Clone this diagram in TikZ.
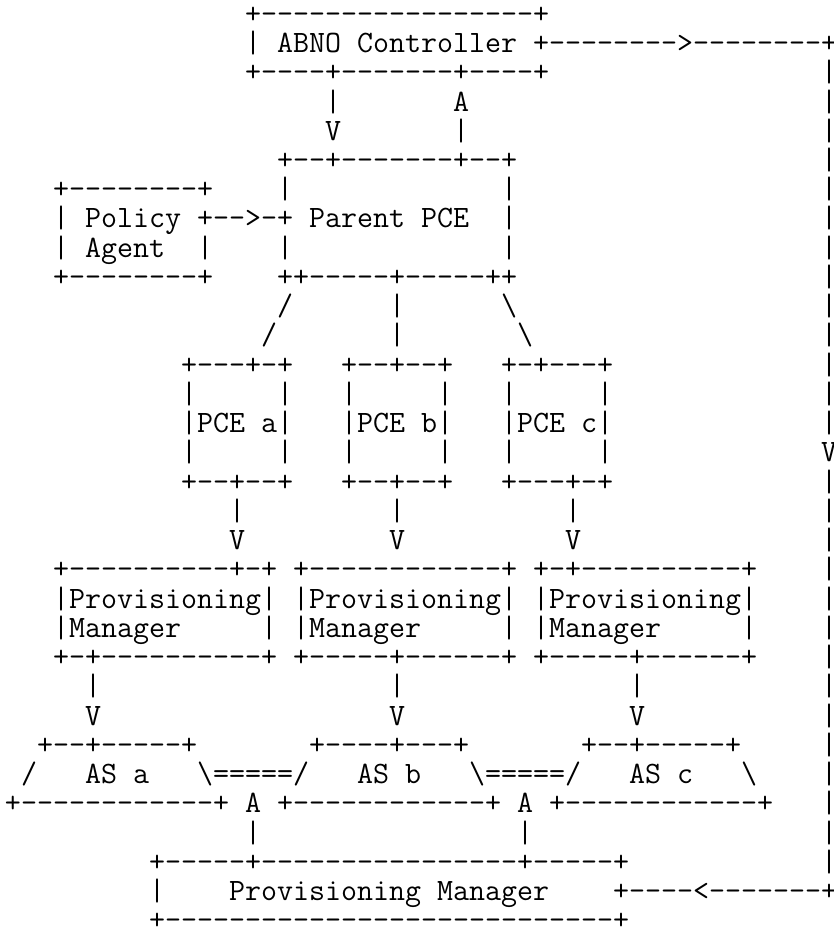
\documentclass[tikz,border=0pt]{standalone}
\usepackage{tikz}
\tikzstyle{ascii}=[font=\ttfamily\fontsize{30.5}{30.5}\selectfont,anchor=mid west,inner sep=0pt,outer sep=0pt]
\newcommand{\fwd}{/}
\newcommand{\bck}{\textbackslash}
\newlength{\cw}
\newlength{\rh}

\begin{document}
\settowidth{\cw}{\ttfamily\fontsize{30.5}{30.5}\selectfont +}
\setlength{\rh}{1.828\cw}
\begin{tikzpicture}[x={(\cw,0)},y={(0,-\rh)}]
		\useasboundingbox (-0.3125,-0.72) rectangle (51.75,31.11);

		% boxes and their labels
		\foreach \r/\c/\t in {0/15/+-----------------+,
			1/15/|, 1/17/ABNO, 1/22/Controller, 1/33/+-------->--------+,
			2/15/+----+-------+----+,
			5/17/+--+-------+--+,
			6/3/+--------+, 6/17/|, 6/31/|,
			7/3/|, 7/5/Policy, 7/12/+-->-+, 7/19/Parent, 7/26/PCE, 7/31/|,
			8/3/|, 8/5/Agent, 8/12/|, 8/17/|, 8/31/|,
			9/3/+--------+, 9/17/++-----+-----++,
			12/11/+---+-+, 12/21/+--+--+, 12/31/+-+---+,
			14/11/|PCE, 14/16/a|, 14/21/|PCE, 14/26/b|, 14/31/|PCE, 14/36/c|,
			16/11/+--+--+, 16/21/+--+--+, 16/31/+---+-+,
			19/3/+----------+-+, 19/18/+------------+, 19/33/+-+----------+,
			20/3/|Provisioning|, 20/18/|Provisioning|, 20/33/|Provisioning|,
			21/3/|Manager, 21/16/|, 21/18/|Manager, 21/31/|, 21/33/|Manager, 21/46/|,
			22/3/+-+----------+, 22/18/+-----+------+, 22/33/+-----+------+,
			25/2/+--+-----+, 25/19/+----+---+, 25/36/+--+-----+,
			26/1/\fwd, 26/5/AS, 26/8/a, 26/12/\bck=====\fwd, 26/22/AS, 26/25/b,
			26/29/\bck=====\fwd, 26/39/AS, 26/42/c, 26/46/\bck,
			27/0/+------------+, 27/15/A, 27/17/+------------+, 27/32/A, 27/34/+------------+,
			29/9/+-----+----------------+-----+,
			30/9/|, 30/14/Provisioning, 30/27/Manager, 30/38/+----<-------+,
			31/9/+----------------------------+}
			{\node[ascii] (n\r-\c) at (\c,\r) {\t};}

		\foreach \r in {13,15} {\foreach \c in {11,17,21,27,31,37} {\node[ascii] (n\r-\c) at (\c,\r) {|};}}

		% links between the boxes
		\foreach \r/\c/\t in {3/20/|, 3/28/A, 4/20/V, 4/28/|,
			10/17/\fwd, 10/24/|, 10/31/\bck,
			11/16/\fwd, 11/24/|, 11/32/\bck,
			17/14/|, 17/24/|, 17/35/|, 18/14/V, 18/24/V, 18/35/V,
			23/5/|, 23/24/|, 23/39/|, 24/5/V, 24/24/V, 24/39/V,
			28/15/|, 28/32/|}
			{\node[ascii] (l\r-\c) at (\c,\r) {\t};}

		% right hand line down to the provisioning manager
		\foreach \r in {2,...,14} {\node[ascii] (e\r) at (51,\r) {|};}
		\node[ascii] (e15) at (51,15) {V};
		\foreach \r in {16,...,29} {\node[ascii] (e\r) at (51,\r) {|};}
	\end{tikzpicture}
\end{document}
